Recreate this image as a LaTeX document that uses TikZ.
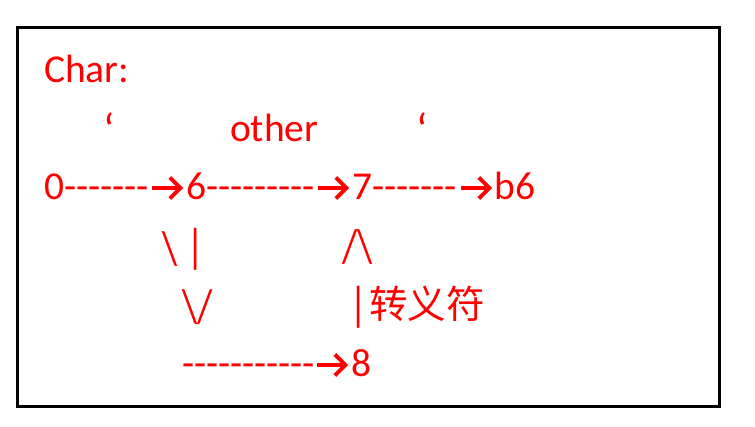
\documentclass[tikz,border=0pt]{standalone}
\usepackage{fontspec}
\setmainfont{Carlito}[Ligatures=TeXOff]
\newfontfamily\cjk{Noto Sans CJK SC}
\definecolor{txtred}{RGB}{255,0,0}
\begin{document}
\begin{tikzpicture}[x=1pt,y=1pt,
  txt/.style={inner sep=0pt,outer sep=0pt,anchor=base west,text=txtred,font=\fontsize{39.5}{42}\selectfont},
  glyph/.style={txt,anchor=base},
  cjktxt/.style={txt,font=\fontsize{38.5}{42}\selectfont\cjk},
  frame/.style={draw=black,line width=3pt},
  warrow/.pic={
    \draw[draw=txtred,line width=3.9pt,line join=miter,line cap=butt]
      (0,0) -- (27.5,0)
      (17.8,10.5) -- (28.3,0) -- (17.8,-10.5);
  }]
\newcommand{\tallglyph}[1]{\scalebox{1}[1.2]{#1}}
\useasboundingbox (0,0) rectangle (755,-427);
\draw[frame] (17.5,-27.5) rectangle (719.5,-406.5);
% line 1
\node[txt] (char) at (44,-83) {Char:};
% line 2
\node[glyph] (q1) at (109.5,-146) {\scalebox{1.15}{‘}};
\node[txt] (other) at (230,-141.5) {other};
\node[glyph] (q2) at (422.5,-146) {\scalebox{1.15}{‘}};
% line 3
\node[txt] (s0) at (44,-200) {0-------};
\coordinate (a1) at (152,-188);
\pic at (a1) {warrow};
\node[txt] (s6) at (186,-200) {6---------};
\coordinate (a2) at (318,-188);
\pic at (a2) {warrow};
\node[txt] (s7) at (352,-200) {7-------};
\coordinate (a3) at (461,-188);
\pic at (a3) {warrow};
\node[txt] (sb6) at (494.5,-200) {b6};
% line 4
\node[glyph] (bs1) at (170.5,-265) {\tallglyph{\textbackslash}};
\node[glyph] (bar1) at (195.5,-263) {\tallglyph{|}};
\node[glyph] (up) at (357.5,-263) {\tallglyph{/\textbackslash}};
% line 5
\node[glyph] (down) at (197.5,-323) {\tallglyph{\textbackslash/}};
\node[glyph] (bar2) at (359,-321) {\tallglyph{|}};
\node[cjktxt] (esc) at (369,-319) {转义符};
% line 6
\node[txt] (d8) at (182,-377) {-----------};
\coordinate (a4) at (317,-365);
\pic at (a4) {warrow};
\node[glyph] (n8) at (361.5,-377) {8};
\end{tikzpicture}
\end{document}
